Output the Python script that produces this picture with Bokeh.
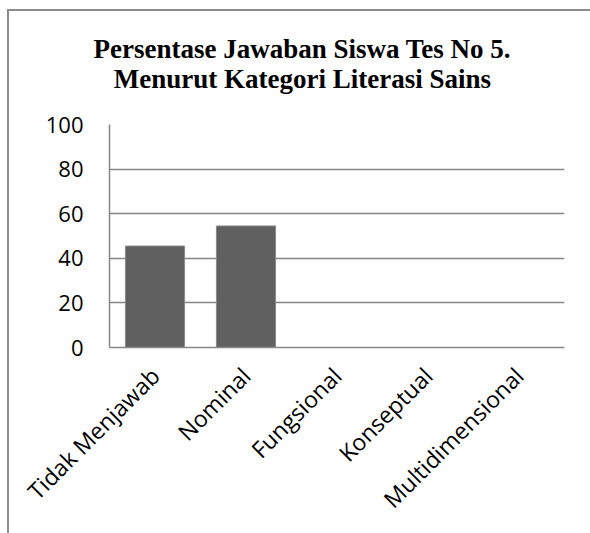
import math
from bokeh.plotting import figure
from bokeh.models import Title, FixedTicker, ColumnDataSource
from bokeh.embed import file_html
from bokeh.resources import INLINE

categories = ["Tidak Menjawab", "Nominal", "Fungsional", "Konseptual", "Multidimensional"]
values = [45.5, 54.5, 0, 0, 0]
y_ticks = [0, 20, 40, 60, 80, 100]
title_lines = ["Persentase Jawaban Siswa Tes No 5.", "Menurut Kategori Literasi Sains"]

src = ColumnDataSource(dict(cat=categories, val=values))

W, H = 590, 533
p = figure(x_range=categories, y_range=(0, 100), width=W, height=H,
           output_backend="svg", toolbar_location=None,
           min_border_left=109, min_border_right=26,
           min_border_top=124, min_border_bottom=186)
# outer chart border (top and left edges) drawn as CSS background behind a transparent canvas
p.border_fill_color = None
p.styles = {
    "background-color": "white",
    "background-image": "linear-gradient(#8c8c8c, #8c8c8c), linear-gradient(#8c8c8c, #8c8c8c)",
    "background-size": "2px 100%, 100% 2px",
    "background-position": "7px 9px, 7px 9px",
    "background-repeat": "no-repeat",
}
p.outline_line_color = None
p.background_fill_color = "white"

p.vbar(x="cat", top="val", width=0.65, source=src,
       fill_color="#606060", line_color="#8a8a8a", line_width=1)

# two-line title; the second line is indented with no-break spaces so it reads centred
title_text = title_lines[0] + "\n" + "\u00a0" * 3 + title_lines[1]
t = Title(text=title_text, align="left", text_font="Liberation Serif",
          text_font_size="27px", text_font_style="bold", text_color="black",
          standoff=62, offset=-16, text_line_height=1.0)
p.add_layout(t, "above")

p.xgrid.grid_line_color = None
p.ygrid.grid_line_color = "#878787"
p.ygrid.grid_line_width = 1.3
p.yaxis.ticker = FixedTicker(ticks=y_ticks)
for ax in (p.xaxis, p.yaxis):
    ax.axis_line_color = "#878787"
    ax.axis_line_width = 1.5
    ax.major_tick_line_color = None
    ax.minor_tick_line_color = None
    ax.major_tick_out = 0
    ax.major_tick_in = 0
    ax.major_label_text_font = "Open Sans"
    ax.major_label_text_color = "black"
p.yaxis.major_label_text_font_size = "22px"
p.xaxis.major_label_text_font_size = "23px"
p.yaxis.major_label_standoff = 26
p.xaxis.major_label_standoff = 24
p.xaxis.major_label_orientation = math.pi / 4
p.x_range.range_padding = 0

open("out.html", "w").write(file_html(p, INLINE))
